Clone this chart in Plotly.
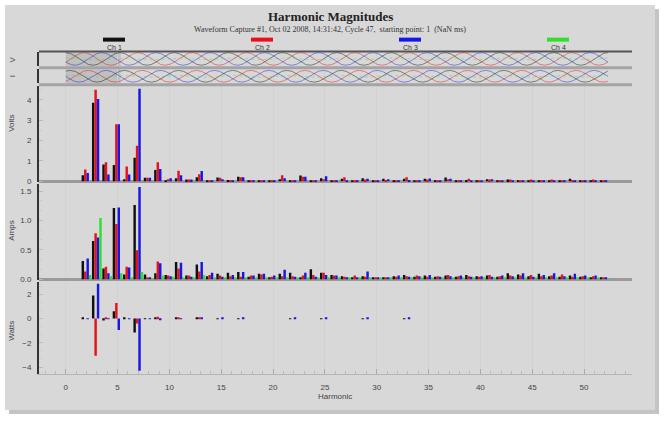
import numpy as np
import plotly.graph_objects as go

W, H = 664, 423

harmonics = list(range(2, 53))
channels = ["Ch 1", "Ch 2", "Ch 3", "Ch 4"]
ch_colors = ["#111111", "#e8101a", "#1616e8", "#2ee02e"]

volts_ch1 = [.30, 3.87, .83, .80, .10, 1.16, .17, .55, .05, .15, .08, .20, .03, .18, .06, .22, .05, .04, .03, .10,
             .03, .28, .03, .15, .03, .12, .03, .15, .03, .12, .03, .12, .03, .12, .03, .18, .03, .06, .03, .10,
             .03, .08, .03, .05, .03, .05, .03, .12, .02, .05, .02]
volts_ch2 = [.58, 4.50, .93, 2.80, .72, 1.75, .17, .93, .10, .52, .08, .35, .03, .17, .06, .20, .04, .04, .03, .30,
             .03, .22, .03, .10, .03, .20, .03, .08, .03, .06, .03, .20, .03, .08, .03, .10, .03, .12, .03, .08,
             .03, .08, .03, .08, .03, .08, .03, .06, .02, .08, .02]
volts_ch3 = [.40, 4.05, .33, 2.80, .33, 4.55, .17, .60, .15, .30, .08, .50, .03, .10, .05, .20, .04, .04, .03, .15,
             .03, .22, .03, .25, .03, .05, .03, .12, .03, .10, .03, .06, .03, .13, .03, .12, .03, .05, .03, .10,
             .03, .05, .03, .04, .03, .04, .03, .05, .02, .04, .02]
volts_ch4 = [0.0] * 51

amps_ch1 = [.31, .65, .18, 1.21, .08, 1.26, .08, .10, .07, .29, .06, .25, .05, .09, .11, .12, .04, .09, .03, .09,
            .11, .03, .17, .11, .07, .05, .03, .05, .03, .03, .05, .07, .04, .06, .04, .06, .04, .07, .05, .06,
            .04, .10, .08, .05, .09, .05, .04, .06, .04, .03, .02]
amps_ch2 = [.13, .78, .21, .94, .21, .49, .03, .30, .06, .18, .06, .13, .07, .06, .05, .04, .06, .08, .04, .05,
            .05, .06, .07, .11, .06, .04, .06, .04, .03, .02, .04, .05, .06, .04, .05, .07, .05, .05, .04, .07,
            .05, .06, .06, .07, .05, .06, .08, .04, .05, .05, .03]
amps_ch3 = [.35, .71, .10, 1.22, .20, 1.57, .02, .27, .05, .28, .04, .29, .11, .04, .07, .12, .06, .09, .06, .16,
            .04, .11, .04, .07, .06, .03, .03, .13, .03, .02, .06, .04, .05, .07, .04, .05, .06, .04, .05, .04,
            .06, .05, .10, .04, .07, .10, .05, .09, .06, .06, .03]
amps_ch4 = [.07, 1.04, .05, .10, .02, .12, .01, .06, .04, .02, .02, .07, .02, .02, .02, .02, .02, .02, .02, .03,
            .02, .02, .02, .02, .02, .02, .02, .02, .02, .02, .02, .02, .02, .02, .02, .03, .02, .02, .03, .02,
            .02, .02, .02, .02, .02, .02, .02, .02, .02, .02, .01]

watts_ch1 = [.05, 1.90, -.15, .60, .03, -1.15, .02, .05, 0, .05, 0, .08, 0, .02, 0, .02, 0, 0, 0, 0,
             .02, 0, 0, .02, 0, 0, 0, .02, 0, 0, 0, .02, 0, 0, 0, 0, 0, 0, 0, 0,
             0, 0, 0, 0, 0, 0, 0, 0, 0, 0, 0]
watts_ch2 = [0, -3.06, .12, 1.30, 0, -.40, 0, .15, 0, .05, 0, .03, 0, 0, 0, 0, 0, 0, 0, 0,
             0, 0, 0, 0, 0, 0, 0, 0, 0, 0, 0, 0, 0, 0, 0, 0, 0, 0, 0, 0,
             0, 0, 0, 0, 0, 0, 0, 0, 0, 0, 0]
watts_ch3 = [-.04, 2.87, -.05, -.95, .02, -4.30, .02, -.12, 0, .02, 0, .05, 0, .03, 0, .03, 0, 0, 0, 0,
             .03, 0, 0, .03, 0, 0, 0, .04, 0, 0, 0, .04, 0, 0, 0, 0, 0, 0, 0, 0,
             0, 0, 0, 0, 0, 0, 0, 0, 0, 0, 0]
watts_ch4 = [0.0] * 51

# waveform strip parameters
wave_cycles = 10
wave_span = 52.3
wave_highlight_end = 5.3

PLOT_L, PLOT_R = 39, 632
panels = [  # (top px, bottom px)
    (52, 67),    # V strip
    (70, 84),    # I strip
    (87, 184),   # Volts
    (186, 283),  # Amps
    (285, 378),  # Watts
]
X_RANGE = [-2.58, 54.63]


def py(p):
    return 1 - p / H


def pxx(p):
    return p / W


fig = go.Figure()

# ---- waveforms ----
t = np.linspace(0, wave_span, 1500)
ph = 2 * np.pi * wave_cycles * t / wave_span
wave_cols = ["rgba(20,20,20,0.6)", "rgba(230,20,30,0.6)", "rgba(30,30,230,0.6)"]
for k in range(3):
    fig.add_trace(go.Scatter(x=t, y=np.cos(ph - k * 2 * np.pi / 3), mode="lines",
                             line=dict(color=wave_cols[k], width=0.8), xaxis="x", yaxis="y",
                             hoverinfo="skip", showlegend=False))
    fig.add_trace(go.Scatter(x=t, y=np.cos(ph - 0.5 - k * 2 * np.pi / 3), mode="lines",
                             line=dict(color=wave_cols[k], width=0.8), xaxis="x2", yaxis="y2",
                             hoverinfo="skip", showlegend=False))
fig.add_trace(go.Scatter(x=t, y=0.15 * np.cos(ph), mode="lines",
                         line=dict(color="rgba(60,220,60,0.55)", width=0.8, dash="dot"),
                         xaxis="x", yaxis="y", hoverinfo="skip", showlegend=False))
fig.add_trace(go.Scatter(x=t, y=0.15 * np.cos(ph), mode="lines",
                         line=dict(color="rgba(60,220,60,0.55)", width=0.8, dash="dot"),
                         xaxis="x2", yaxis="y2", hoverinfo="skip", showlegend=False))

# ---- bars ----
bar_w = 0.235
datasets = [
    ("x3", "y3", [volts_ch1, volts_ch2, volts_ch3, volts_ch4]),
    ("x4", "y4", [amps_ch1, amps_ch2, amps_ch3, amps_ch4]),
    ("x5", "y5", [watts_ch1, watts_ch2, watts_ch3, watts_ch4]),
]
for xa, ya, series in datasets:
    for i, vals in enumerate(series):
        fig.add_trace(go.Bar(x=harmonics, y=vals, width=bar_w, offset=-0.47 + i * bar_w,
                             marker=dict(color=ch_colors[i], line=dict(width=0)),
                             name=channels[i], xaxis=xa, yaxis=ya, showlegend=False))

layout = dict(
    width=W, height=H, margin=dict(l=0, r=0, t=0, b=0),
    paper_bgcolor="white", plot_bgcolor="white", barmode="overlay",
    font=dict(family="Liberation Sans, Arial", size=8, color="#444"),
    showlegend=False,
)

tickfont = dict(family="Liberation Sans, Arial", size=8, color="#444")
for n in range(1, 6):
    top, bot = panels[n - 1]
    key = "" if n == 1 else str(n)
    xa = dict(domain=[pxx(PLOT_L), pxx(PLOT_R)], anchor="y" + key, range=X_RANGE,
              tick0=0, dtick=5, showgrid=True, gridcolor="#d2d2d2", gridwidth=1.3,
              zeroline=False, showticklabels=False, ticks="", showline=False)
    if n == 5:
        xa.update(showticklabels=True, ticks="inside", ticklen=5, tickcolor="#aaa",
                  tickfont=tickfont, showline=True, linecolor="#b5b5b5", linewidth=1,
                  ticklabelstandoff=5,
                  minor=dict(dtick=1, ticks="inside", ticklen=3, tickcolor="#bbb", showgrid=False))
    layout["xaxis" + key] = xa
    ya = dict(domain=[py(bot), py(top)], anchor="x" + key, showgrid=False,
              showline=True, linecolor="#333", linewidth=2, tickfont=tickfont,
              fixedrange=True, ticklabelstandoff=4)
    if n in (1, 2):
        ya.update(range=[-1.18, 1.18], showticklabels=False, ticks="", zeroline=False)
    elif n == 3:
        ya.update(range=[-0.05, 4.68], tick0=0, dtick=1, zeroline=True, zerolinecolor="#9a9a9a",
                  zerolinewidth=3, ticks="inside", ticklen=4, tickcolor="#bbb",
                  minor=dict(dtick=0.5, ticks="inside", ticklen=3, tickcolor="#ccc"))
    elif n == 4:
        ya.update(range=[-0.02, 1.615], tick0=0, dtick=0.5, tickformat=".1f", zeroline=True,
                  zerolinecolor="#9a9a9a", zerolinewidth=3, ticks="inside", ticklen=4, tickcolor="#bbb",
                  minor=dict(dtick=0.5 / 3, ticks="inside", ticklen=3, tickcolor="#ccc"))
    else:
        ya.update(range=[-4.61, 3.0], tick0=0, dtick=2, zeroline=False, ticks="inside", ticklen=4,
                  tickcolor="#bbb", minor=dict(dtick=2 / 3, ticks="inside", ticklen=3, tickcolor="#ccc"))
    layout["yaxis" + key] = ya

shapes = [
    # shadow and gray frame
    dict(type="rect", xref="paper", yref="paper", x0=pxx(9), x1=pxx(659), y0=py(418), y1=py(9),
         fillcolor="#c4c4c4", line=dict(width=0), layer="below"),
    dict(type="rect", xref="paper", yref="paper", x0=pxx(5), x1=pxx(655), y0=py(414), y1=py(5),
         fillcolor="#d8d8d8", line=dict(width=0), layer="below"),
    # separator bands
    dict(type="rect", xref="paper", yref="paper", x0=pxx(PLOT_L), x1=pxx(PLOT_R), y0=py(70), y1=py(67),
         fillcolor="#a4a4a4", line=dict(width=0)),
    dict(type="rect", xref="paper", yref="paper", x0=pxx(PLOT_L), x1=pxx(PLOT_R), y0=py(87), y1=py(84),
         fillcolor="#a4a4a4", line=dict(width=0)),
    dict(type="line", xref="paper", yref="paper", x0=pxx(PLOT_L), x1=pxx(PLOT_R), y0=py(52), y1=py(52),
         line=dict(color="#555", width=2)),
    # highlighted cycle in waveform strips
    dict(type="rect", xref="x", yref="y domain", x0=0, x1=wave_highlight_end, y0=0, y1=1,
         fillcolor="rgba(150,150,150,0.35)", line=dict(width=0), layer="below"),
    dict(type="rect", xref="x2", yref="y2 domain", x0=0, x1=wave_highlight_end, y0=0, y1=1,
         fillcolor="rgba(150,150,150,0.35)", line=dict(width=0), layer="below"),
]


def note(text, x, y, size=8, color="#444", family="Liberation Sans, Arial", angle=0):
    return dict(text=text, x=pxx(x), y=py(y), xref="paper", yref="paper", showarrow=False,
                xanchor="center", yanchor="middle", textangle=angle,
                font=dict(family=family, size=size, color=color))


annotations = [
    note("<b>Harmonic Magnitudes</b>", 330, 17, size=13, color="#222",
         family="Liberation Serif, Times New Roman"),
    note("Waveform Capture #1, Oct 02 2008, 14:31:42, Cycle 47,  starting point: 1  (NaN ms)",
         330, 30, size=8, color="#333", family="Liberation Serif, Times New Roman"),
    note("Harmonic", 335, 400),
]
legend_x = [114, 262, 410, 558]
for i, lx in enumerate(legend_x):
    shapes.append(dict(type="line", xref="paper", yref="paper", x0=pxx(lx - 11), x1=pxx(lx + 11),
                       y0=py(40), y1=py(40), line=dict(color=ch_colors[i], width=4)))
    annotations.append(note(channels[i], lx, 47.5, size=7, color="#333"))

for label, yy in [("V", 60), ("I", 77), ("Volts", 125), ("Amps", 233), ("Watts", 334)]:
    annotations.append(note(label, 12, yy, angle=-90))

layout["shapes"] = shapes
layout["annotations"] = annotations
fig.update_layout(**layout)
fig.write_html("out.html")
